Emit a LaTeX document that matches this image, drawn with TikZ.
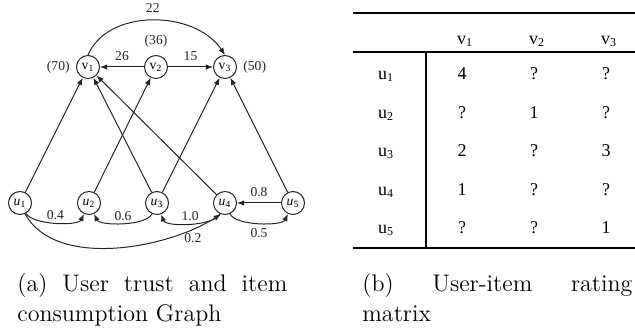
\documentclass[tikz,border=0pt]{standalone}
\usepackage{fontspec}
\newfontfamily\graphfont{Liberation Serif}
\usetikzlibrary{arrows.meta,positioning}
\hyphenpenalty=10000

\begin{document}
\begin{tikzpicture}[
  x=0.5pt, y=0.5pt,
  >={Latex[length=3.6pt,width=2.8pt]},
  vertex/.style={circle, draw=black!85, line width=.5pt, minimum size=11.5pt, inner sep=0pt, font=\graphfont\fontsize{6.8}{7}\selectfont},
  weight/.style={font=\graphfont\fontsize{6.8}{7}\selectfont, inner sep=0pt, text=black!85},
  edge/.style={->, draw=black!85, line width=.5pt},
  cell/.style={anchor=base, inner sep=0pt, font=\graphfont\fontsize{9}{10}\selectfont},
  rule/.style={line width=.9pt},
  caption/.style={anchor=north west, inner sep=0pt, text width=135pt, align=justify, font=\fontsize{12}{15}\selectfont}
]
  \useasboundingbox (0,0) rectangle (635,330);

  % items with their counts
  \node[vertex, label={[weight, label distance=3pt]left:(70)}] (v1) at (88,263) {v\textsubscript{1}};
  \node[vertex, label={[weight, label distance=3.5pt]above:(36)}] (v2) at (156,263) {v\textsubscript{2}};
  \node[vertex, label={[weight, label distance=3pt]right:(50)}] (v3) at (225,263) {v\textsubscript{3}};

  % users
  \foreach \i/\x in {1/20,2/89,3/157,4/225,5/293}
    \node[vertex] (u\i) at (\x,127) {\textit{u}\textsubscript{\i}};

  % item links
  \draw[edge] (v2) -- node[weight, above=3pt] {26} (v1);
  \draw[edge] (v2) -- node[weight, above=3pt] {15} (v3);
  \draw[edge] (v1.north) .. controls +(20,47) and +(-30,45) .. node[weight, above=3.5pt] {22} (v3.north);

  % consumption
  \draw[edge] (u1) -- (v1);
  \draw[edge] (u2) -- (v2);
  \draw[edge] (u3) -- (v1);
  \draw[edge] (u3) -- (v3);
  \draw[edge] (u4) -- (v1);
  \draw[edge] (u5) -- (v3);

  % trust between users
  \draw[edge] (u5) -- node[weight, above=3pt] {0.8} (u4);
  \draw[edge] (u1) to[out=-60, in=-115, looseness=.6] node[weight, above=1pt] {0.4} (u2);
  \draw[edge] (u3) to[out=-115, in=-65, looseness=.6] node[weight, above=1pt] {0.6} (u2);
  \draw[edge] (u4) to[out=-115, in=-70, looseness=.6] node[weight, above=1pt] {1.0} (u3);
  \draw[edge] (u4) to[out=-65, in=-115, looseness=.6] node[weight, below=2.5pt] {0.5} (u5);
  \draw[edge] (u1.-65) .. controls +(30,-55) and +(-55,-35) .. node[weight, pos=.85, below=2pt] {0.2} (u4.-110);

  % rating matrix
  \draw[rule] (353,317) -- (635,317);
  \draw[rule] (353,278) -- (635,278);
  \draw[rule] (353,82) -- (635,82);
  \draw[rule] (426,278) -- (426,82);
  \foreach \j/\x in {1/465,2/537,3/609}
    \node[cell] (head\j) at (\x,285) {v\textsubscript{\j}};
  \foreach \row [count=\i] in {{4,?,?},{?,1,?},{2,?,3},{1,?,?},{?,?,1}} {
    \node[cell] (user\i) at (386,{250-(\i-1)*38.5}) {u\textsubscript{\i}};
    \foreach \val [count=\j] in \row
      \node[cell] (r\i c\j) at ({462+(\j-1)*72},{250-(\i-1)*38.5}) {\val};
  }

  % captions
  \node[caption] (capa) at (17,57) {\noindent(a) User trust and item consumption Graph};
  \node[caption] (capb) at (362,57) {\noindent(b) User-item rating matrix};
\end{tikzpicture}
\end{document}
